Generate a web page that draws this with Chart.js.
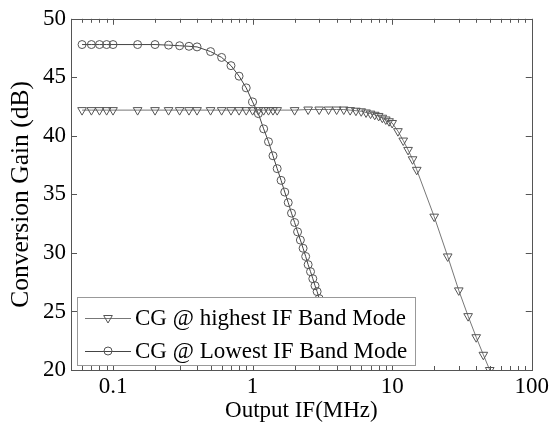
<!DOCTYPE html>
<html>
<head>
<meta charset="utf-8">
<script src="https://cdn.jsdelivr.net/npm/chart.js@4/dist/chart.umd.min.js"></script>
<style>
  html, body { margin: 0; padding: 0; background: #fff; }
  #wrap { width: 552px; height: 432px; }
</style>
</head>
<body>
<div id="wrap"><canvas id="myChart" width="552" height="432"></canvas></div>
<script>
// frequencies in MHz, gain in dB
var highFreq = [0.06, 0.07, 0.08, 0.09, 0.1, 0.15, 0.2, 0.25, 0.3, 0.35, 0.4, 0.5, 0.6, 0.7, 0.8, 0.9,
  1.0, 1.1, 1.2, 1.3, 1.4, 1.5, 2, 2.5, 3, 3.5, 4, 4.5, 5, 5.5, 6, 6.5, 7, 7.5, 8, 8.5, 9, 9.5, 10,
  11, 12, 13, 14, 15, 20, 25, 30, 35, 40, 45, 50];
var highGain = [42.2, 42.2, 42.2, 42.2, 42.2, 42.2, 42.2, 42.2, 42.2, 42.2, 42.2, 42.2, 42.2, 42.2, 42.2, 42.2,
  42.2, 42.2, 42.2, 42.2, 42.2, 42.2, 42.2, 42.25, 42.25, 42.25, 42.25, 42.25, 42.2, 42.15, 42.1, 42.0, 41.9, 41.8, 41.7, 41.55, 41.4, 41.25, 41.1,
  40.4, 39.6, 38.8, 38.0, 37.1, 33.1, 29.7, 26.8, 24.6, 22.8, 21.3, 20.0];

var lowFreq = [0.06, 0.07, 0.08, 0.09, 0.1, 0.15, 0.2, 0.25, 0.3, 0.35, 0.4, 0.5, 0.6, 0.7, 0.8, 0.9,
  1.0, 1.1, 1.2, 1.3, 1.4, 1.5, 1.6, 1.7, 1.8, 1.9, 2.0, 2.1, 2.2, 2.3, 2.4, 2.5, 2.6, 2.7, 2.8, 2.9, 3.0];
var lowGain = [47.8, 47.8, 47.8, 47.8, 47.8, 47.8, 47.8, 47.75, 47.7, 47.65, 47.6, 47.2, 46.7, 46.0, 45.1, 44.1,
  42.9, 41.9, 40.6, 39.5, 38.3, 37.2, 36.2, 35.2, 34.3, 33.4, 32.6, 31.8, 31.1, 30.4, 29.7, 29.0, 28.4, 27.8, 27.2, 26.7, 26.1];

var xTicks = [0.1, 1, 10, 100];
var yTicks = [20, 25, 30, 35, 40, 45, 50];

var seriesNames = ["CG @ highest IF Band Mode", "CG @ Lowest IF Band Mode"];

var fontFam = "'Liberation Serif', 'Times New Roman', serif";
var axisColor = "#555";

function toPoints(xs, ys) {
  var pts = [];
  for (let i = 0; i < xs.length; i++) {
    pts.push({ x: xs[i], y: ys[i] });
  }
  return pts;
}

// box around the plot with inward ticks, like the original plot
var framePlugin = {
  id: "frame",
  afterDatasetsDraw: function (chart) {
    var ctx = chart.ctx;
    var a = chart.chartArea;
    var xs = chart.scales.x;
    var ys = chart.scales.y;
    ctx.save();
    ctx.strokeStyle = axisColor;
    ctx.lineWidth = 1;
    ctx.strokeRect(Math.round(a.left) + 0.5, Math.round(a.top) + 0.5,
      Math.round(a.right - a.left), Math.round(a.bottom - a.top));
    ctx.beginPath();
    for (let e = -2; e <= 2; e++) {
      for (let k = 1; k <= 9; k++) {
        var v = k * Math.pow(10, e);
        if (v < xs.min * 0.999 || v > xs.max * 1.001) continue;
        var px = Math.round(xs.getPixelForValue(v)) + 0.5;
        var len = (k == 1) ? 6 : 4;
        ctx.moveTo(px, a.bottom);
        ctx.lineTo(px, a.bottom - len);
        ctx.moveTo(px, a.top);
        ctx.lineTo(px, a.top + len);
      }
    }
    for (let i = 0; i < yTicks.length; i++) {
      var py = Math.round(ys.getPixelForValue(yTicks[i])) + 0.5;
      ctx.moveTo(a.left, py);
      ctx.lineTo(a.left + 6, py);
      ctx.moveTo(a.right, py);
      ctx.lineTo(a.right - 6, py);
    }
    ctx.stroke();
    ctx.restore();
  }
};

function drawMarker(ctx, style, x, y, r) {
  ctx.beginPath();
  if (style == "circle") {
    ctx.arc(x, y, r, 0, Math.PI * 2);
  } else {
    // downward triangle
    ctx.moveTo(x, y + r);
    ctx.lineTo(x - r * 0.866, y - r * 0.5);
    ctx.lineTo(x + r * 0.866, y - r * 0.5);
    ctx.closePath();
  }
  ctx.stroke();
}

// legend box sitting inside the plot, bottom left
var legendPlugin = {
  id: "boxLegend",
  afterDraw: function (chart) {
    var ctx = chart.ctx;
    var a = chart.chartArea;
    var left = a.left + 6, top = a.bottom - 73, w = 338, h = 68;
    ctx.save();
    ctx.fillStyle = "#fff";
    ctx.fillRect(left, top, w, h);
    ctx.strokeStyle = "#999";
    ctx.lineWidth = 1;
    ctx.strokeRect(left + 0.5, top + 0.5, w, h);
    ctx.font = "23px " + fontFam;
    ctx.textBaseline = "middle";
    ctx.textAlign = "left";
    chart.data.datasets.forEach(function (ds, i) {
      var cy = top + 21 + i * 33;
      ctx.strokeStyle = ds.borderColor;
      ctx.beginPath();
      ctx.moveTo(left + 8, cy + 0.5);
      ctx.lineTo(left + 54, cy + 0.5);
      ctx.stroke();
      ctx.fillStyle = "#fff";
      ctx.strokeStyle = ds.pointBorderColor;
      drawMarker(ctx, ds.pointStyle, left + 31, cy, ds.pointRadius);
      ctx.fillStyle = "#000";
      ctx.fillText(ds.label, left + 58, cy + 1);
    });
    ctx.restore();
  }
};

var chart_data = {
  datasets: [
    {
      label: seriesNames[0],
      data: toPoints(highFreq, highGain),
      borderColor: "#777",
      borderWidth: 1,
      pointStyle: "triangle",
      pointRotation: 180,
      pointRadius: 5,
      pointBorderWidth: 1,
      pointBorderColor: "#555",
      pointBackgroundColor: "rgba(0,0,0,0)",
      tension: 0
    },
    {
      label: seriesNames[1],
      data: toPoints(lowFreq, lowGain),
      borderColor: "#444",
      borderWidth: 1,
      pointStyle: "circle",
      pointRadius: 4,
      pointBorderWidth: 1,
      pointBorderColor: "#555",
      pointBackgroundColor: "rgba(0,0,0,0)",
      tension: 0
    }
  ]
};

var config = {
  type: "line",
  data: chart_data,
  plugins: [framePlugin, legendPlugin],
  options: {
    responsive: false,
    animation: false,
    events: [],
    layout: { padding: { top: 13, right: 19, left: 0, bottom: 0 } },
    plugins: {
      legend: { display: false },
      tooltip: { enabled: false }
    },
    scales: {
      x: {
        type: "logarithmic",
        min: 0.05,
        max: 100,
        afterBuildTicks: function (scale) {
          scale.ticks = xTicks.map(function (v) { return { value: v }; });
        },
        afterFit: function (scale) { scale.height = 62; },
        grid: { display: false, drawTicks: false },
        border: { display: false },
        ticks: {
          color: "#000",
          padding: 3,
          maxRotation: 0,
          autoSkip: false,
          font: { family: fontFam, size: 23 },
          callback: function (value) { return String(value); }
        },
        title: {
          display: true,
          text: "Output IF(MHz)",
          color: "#000",
          font: { family: fontFam, size: 23 },
          padding: { top: 0, bottom: 7 }
        }
      },
      y: {
        type: "linear",
        min: 20,
        max: 50,
        afterBuildTicks: function (scale) {
          scale.ticks = yTicks.map(function (v) { return { value: v }; });
        },
        afterFit: function (scale) { scale.width = 71; },
        grid: { display: false, drawTicks: false },
        border: { display: false },
        ticks: {
          color: "#000",
          padding: 5,
          font: { family: fontFam, size: 23 }
        },
        title: {
          display: true,
          text: "Conversion Gain (dB)",
          color: "#000",
          font: { family: fontFam, size: 25.5 },
          padding: { top: 6, bottom: 0 }
        }
      }
    }
  }
};

const myChart = new Chart(document.getElementById("myChart"), config);
</script>
</body>
</html>
